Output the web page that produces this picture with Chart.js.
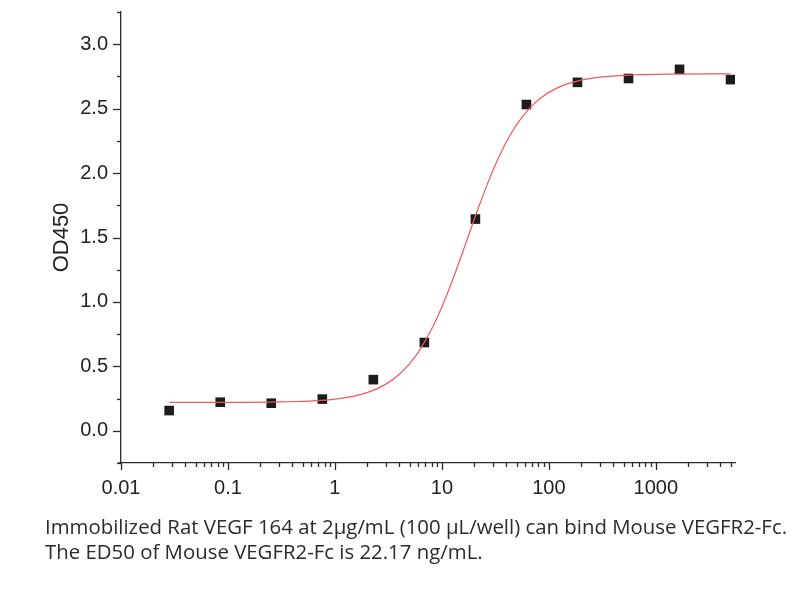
<!DOCTYPE html>
<html><head><meta charset="utf-8">
<script src="https://cdn.jsdelivr.net/npm/chart.js@4.4.0/dist/chart.umd.min.js"></script>
<style>
html,body{margin:0;padding:0;background:#fff;}
#wrap{position:relative;width:804px;height:600px;overflow:hidden;}
canvas{position:absolute;left:0;top:0;}
.cap{position:absolute;left:45px;font-family:'Open Sans',sans-serif;font-size:20px;line-height:20px;color:#2b2b2b;white-space:nowrap;transform-origin:0 0;}
</style></head><body>
<div id="wrap">
<canvas id="c" width="804" height="600"></canvas>
<div class="cap" id="cap1" style="top:517px">Immobilized Rat VEGF 164 at 2μg/mL (100 μL/well) can bind Mouse VEGFR2-Fc.</div>
<div class="cap" id="cap2" style="top:542px">The ED50 of Mouse VEGFR2-Fc is 22.17 ng/mL.</div>
</div>
<script>
// Measured data (ng/mL vs OD450)
const concentrations = [0.0282, 0.0847, 0.254, 0.762, 2.286, 6.859, 20.58, 61.73, 185.2, 555.6, 1666.7, 5000];
const od450 = [0.157, 0.222, 0.214, 0.246, 0.397, 0.685, 1.643, 2.532, 2.704, 2.734, 2.805, 2.725];
// Fitted curve
const fitX = [0.0282, 0.1, 0.3, 1, 2, 3, 4, 5, 6, 8, 10, 12, 15, 18, 22, 27, 33, 40, 50, 65, 85, 120, 180, 300, 600, 1500, 5000];
const fitY = [0.220, 0.221, 0.224, 0.245, 0.296, 0.362, 0.439, 0.522, 0.609, 0.788, 0.961, 1.125, 1.343, 1.530, 1.733, 1.928, 2.099, 2.241, 2.376, 2.497, 2.586, 2.661, 2.712, 2.744, 2.761, 2.768, 2.770];
// Tick labels
const xTickValues = [0.01, 0.1, 1, 10, 100, 1000];
const xTickLabels = ['0.01', '0.1', '1', '10', '100', '1000'];
const yTickValues = [0, 0.5, 1, 1.5, 2, 2.5, 3];
const yTickLabels = ['0.0', '0.5', '1.0', '1.5', '2.0', '2.5', '3.0'];

const AXIS = '#2a2a2a';
const tickPlugin = {
  id: 'customTicks',
  afterDraw(chart) {
    const ctx = chart.ctx, xs = chart.scales.x, ys = chart.scales.y, a = chart.chartArea;
    ctx.save();
    ctx.strokeStyle = AXIS;
    ctx.lineWidth = 1.3;
    ctx.beginPath();
    ctx.moveTo(a.left - 3, a.bottom); ctx.lineTo(a.left, a.bottom);
    ctx.stroke();
    xs.ticks.forEach(t => {
      const v = t.value;
      const e = Math.floor(Math.log10(v) + 1e-9);
      const s = v / Math.pow(10, e);
      if (Math.abs(s - Math.round(s)) > 1e-6) return;
      const major = Math.round(s) === 1 || Math.round(s) === 10;
      const px = Math.round(xs.getPixelForValue(v)) + 0.5;
      if (px > a.right + 1) return;
      ctx.beginPath();
      ctx.moveTo(px, a.bottom);
      ctx.lineTo(px, a.bottom + (major ? 7 : 4));
      ctx.stroke();
    });
    ys.ticks.forEach(t => {
      const v = t.value;
      const major = Math.abs(v * 2 - Math.round(v * 2)) < 1e-9;
      const py = Math.round(ys.getPixelForValue(v)) + 0.5;
      ctx.beginPath();
      ctx.moveTo(a.left, py);
      ctx.lineTo(a.left - (major ? 8 : 4), py);
      ctx.stroke();
    });
    ctx.restore();
  }
};

new Chart(document.getElementById('c'), {
  type: 'scatter',
  data: {
    datasets: [
      {
        label: 'fit',
        data: fitX.map((x, i) => ({x: x, y: fitY[i]})),
        showLine: true,
        borderColor: 'rgb(238,90,90)',
        borderWidth: 1.2,
        pointRadius: 0,
        cubicInterpolationMode: 'monotone',
        order: 0
      },
      {
        label: 'OD450',
        data: concentrations.map((x, i) => ({x: x, y: od450[i]})),
        showLine: false,
        pointStyle: 'rect',
        pointRadius: 6.8,
        backgroundColor: '#1c1c1c',
        borderColor: '#1c1c1c',
        borderWidth: 0,
        order: 1
      }
    ]
  },
  options: {
    responsive: false,
    animation: false,
    events: [],
    layout: {padding: {left: 0, right: 69, top: 12, bottom: 0}},
    plugins: {legend: {display: false}, tooltip: {enabled: false}},
    scales: {
      x: {
        type: 'logarithmic',
        min: 0.01,
        max: 5500,
        grid: {display: false, drawTicks: false},
        border: {display: true, color: AXIS, width: 1.3},
        afterFit: s => { s.height = 137; s.paddingLeft = 0; s.paddingRight = 0; },
        ticks: {
          autoSkip: false,
          maxRotation: 0,
          padding: 13,
          color: '#222',
          font: {family: "'Liberation Sans', Arial, sans-serif", size: 20},
          callback: v => {
            const i = xTickValues.findIndex(t => Math.abs(t - v) / t < 1e-6);
            return i >= 0 ? xTickLabels[i] : '';
          }
        }
      },
      y: {
        type: 'linear',
        min: -0.25,
        max: 3.25,
        grid: {display: false, drawTicks: false},
        border: {display: true, color: AXIS, width: 1.3},
        afterFit: s => { s.width = 121; s.paddingTop = 0; s.paddingBottom = 0; },
        title: {
          display: true,
          text: 'OD450',
          color: '#222',
          font: {family: "'Liberation Sans', Arial, sans-serif", size: 22, lineHeight: 1.2},
          padding: {top: 49, bottom: 0}
        },
        ticks: {
          stepSize: 0.25,
          autoSkip: false,
          padding: 13,
          color: '#222',
          font: {family: "'Liberation Sans', Arial, sans-serif", size: 20},
          callback: v => {
            const i = yTickValues.findIndex(t => Math.abs(t - v) < 1e-9);
            return i >= 0 ? yTickLabels[i] : '';
          }
        }
      }
    }
  },
  plugins: [tickPlugin]
});

const c1 = document.getElementById('cap1'), c2 = document.getElementById('cap2');
const w = c1.getBoundingClientRect().width;
const k = 742 / w;
c1.style.transform = 'scaleX(' + k + ')';
c2.style.transform = 'scaleX(' + k + ')';
</script>
</body></html>
